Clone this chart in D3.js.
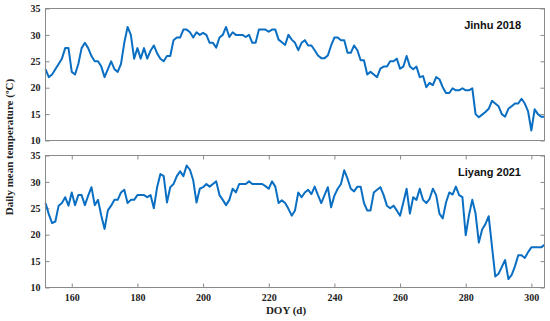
<!DOCTYPE html>
<html>
<head>
<meta charset="utf-8">
<script src="https://cdn.jsdelivr.net/npm/d3@7"></script>
<style>
  html, body { margin: 0; padding: 0; background: #fff; }
  svg { display: block; }
  .tick text { font-family: "Liberation Serif", "Times New Roman", serif; font-weight: bold; font-size: 10px; fill: #222; }
  .tick line { stroke: #8a8a8a; }
  .frame { fill: none; stroke: #8a8a8a; stroke-width: 1; }
  .series { fill: none; stroke: #0a6fc2; stroke-width: 2; stroke-linejoin: round; }
  .panel-title { font-family: "Liberation Sans", Arial, sans-serif; font-weight: bold; font-size: 11px; fill: #111; }
  .axis-label { font-family: "Liberation Serif", "Times New Roman", serif; font-weight: bold; font-size: 11px; fill: #222; }
</style>
</head>
<body>
<svg id="chart" width="550" height="321"></svg>
<script>
// first day of both series, one value per day after that
const DOY_START = 152;
const DOY_TICKS = [160, 180, 200, 220, 240, 260, 280, 300];
const TEMP_TICKS = [10, 15, 20, 25, 30, 35];

const jinhu2018 = [
  23.5, 22, 22.5, 23.5, 24.5, 25.5, 27.5, 27.5, 23, 22.5,
  24.5, 27.5, 28.5, 27.5, 26, 25, 25, 24, 22, 23.5,
  25, 23.5, 23, 24.5, 28.5, 31.5, 30, 25.5, 27.5, 25.5,
  27.5, 25.5, 27, 28, 26.5, 25.5, 25, 26, 26, 29,
  29.5, 29.5, 31, 31, 30.5, 29.5, 30.5, 30, 30.4, 30,
  28.5, 28.5, 27.6, 29.5, 30, 31.5, 29.6, 30.5, 30, 30,
  30, 29.6, 30, 28.5, 28.5, 31, 31, 31, 30.6, 31,
  31, 29.1, 28.6, 28.1, 30, 29.1, 28.5, 27.1, 28.5, 29,
  28, 28, 27.1, 26.1, 25.6, 25.6, 26.1, 28, 29.5, 29.5,
  29, 29, 26.6, 26.6, 28, 27.1, 25.2, 25.2, 22.5, 23,
  22.5, 22, 23.6, 24, 24, 25, 25, 25.5, 23.6, 24,
  26, 24, 23.5, 24, 22, 22.2, 20.1, 20.9, 20.5, 22,
  21.6, 20.1, 19, 19, 19.9, 19.5, 19.5, 19.9, 19.5, 19.5,
  19.9, 15, 14.4, 14.9, 15.4, 16, 17.5, 17, 16.5, 15,
  14.5, 16, 16.5, 17, 17, 17.9, 17, 15.5, 11.9, 15.9,
  15, 14.5, 14.5
];

const liyang2021 = [
  26, 23.9, 22.2, 22.5, 25.5, 26, 27.1, 25.5, 28, 25.6,
  27.5, 27.5, 25.6, 27.4, 29, 25.6, 26.6, 23.6, 21.1, 24.6,
  25.5, 26.6, 26.6, 28, 28.5, 26, 26.6, 26.6, 27.5, 27.5,
  27.5, 27.1, 27.5, 25, 29, 31.5, 31.1, 26.1, 29, 29.6,
  31.1, 32, 31.1, 33.1, 32.3, 30.3, 26.1, 28.7, 29, 29.6,
  29.1, 29.6, 30.1, 27.5, 26.6, 25.6, 26.6, 28.7, 28, 29.6,
  29.6, 29.6, 30.1, 29.6, 29.6, 29.6, 29.6, 29.2, 28.7, 30.1,
  29.1, 26, 26.5, 26, 24.9, 23.6, 24.6, 28, 27.1, 28,
  28.5, 27.7, 29.1, 27.5, 26, 27.5, 29, 25.2, 27.4, 28.7,
  29.6, 32.2, 30.6, 28.7, 28.2, 29.1, 29.1, 26, 24.6, 24.6,
  28, 28.5, 29, 27.5, 25.5, 25, 25.5, 24.6, 23.6, 26.1,
  28.7, 24, 27.1, 26.6, 28.7, 26.6, 26, 26.8, 28.7, 27.5,
  24, 23.1, 26.1, 28, 27.6, 29.1, 27.5, 27.1, 19.9, 23.7,
  26.6, 24, 18.5, 21, 22, 23.5, 17.8, 12.1, 12.6, 13.9,
  15.2, 11.6, 12.4, 14, 16.1, 16.1, 15.6, 16.7, 17.6, 17.6,
  17.6, 17.6, 18.1
];

const panels = [
  { title: 'Jinhu 2018', values: jinhu2018, top: 8.5, bottom: 140.5, xTicks: false },
  { title: 'Liyang 2021', values: liyang2021, top: 155.5, bottom: 287.5, xTicks: true }
];

const left = 45.5, right = 544.5;
const svg = d3.select('#chart');

const x = d3.scaleLinear().domain([152, 304]).range([left, right]);

panels.forEach(p => {
  const y = d3.scaleLinear().domain([10, 35]).range([p.bottom, p.top]);
  const g = svg.append('g');

  g.append('g')
    .attr('transform', `translate(${left},0)`)
    .call(d3.axisLeft(y).tickValues(TEMP_TICKS).tickSize(-4).tickPadding(5))
    .call(a => a.select('.domain').remove());

  g.append('g')
    .attr('transform', `translate(${right},0)`)
    .call(d3.axisRight(y).tickValues(TEMP_TICKS).tickSize(-4).tickFormat(''))
    .call(a => a.select('.domain').remove());

  if (p.xTicks) {
    g.append('g')
      .attr('transform', `translate(0,${p.bottom})`)
      .call(d3.axisBottom(x).tickValues(DOY_TICKS).tickSize(-4).tickPadding(6))
      .call(a => a.select('.domain').remove());
    g.append('g')
      .attr('transform', `translate(0,${p.top})`)
      .call(d3.axisTop(x).tickValues(DOY_TICKS).tickSize(-4).tickFormat(''))
      .call(a => a.select('.domain').remove());
  }

  const line = d3.line()
    .x((d, i) => x(DOY_START + i))
    .y(d => y(d));

  g.append('path').datum(p.values).attr('class', 'series').attr('d', line);

  g.append('rect').attr('class', 'frame')
    .attr('x', left).attr('y', p.top)
    .attr('width', right - left).attr('height', p.bottom - p.top);

  g.append('text').attr('class', 'panel-title')
    .attr('x', 521).attr('y', p.top + 20)
    .attr('text-anchor', 'end')
    .text(p.title);
});

svg.append('text').attr('class', 'axis-label')
  .attr('transform', 'translate(13,147) rotate(-90)')
  .attr('text-anchor', 'middle')
  .text('Daily mean temperature (ºC)');

svg.append('text').attr('class', 'axis-label')
  .attr('x', 286).attr('y', 314)
  .attr('text-anchor', 'middle')
  .text('DOY (d)');
</script>
</body>
</html>
